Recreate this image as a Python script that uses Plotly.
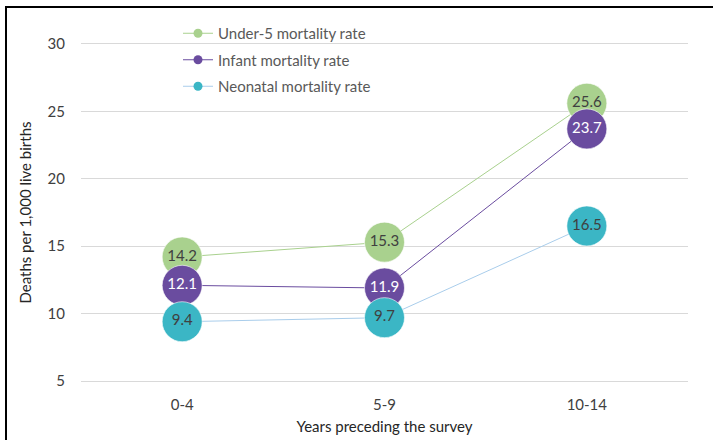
import plotly.graph_objects as go

categories = ["0-4", "5-9", "10-14"]
under5 = [14.2, 15.3, 25.6]
infant = [12.1, 11.9, 23.7]
neonatal = [9.4, 9.7, 16.5]
series_names = ["Under-5 mortality rate", "Infant mortality rate", "Neonatal mortality rate"]
y_ticks = [5, 10, 15, 20, 25, 30]

FONT = "Lato, 'Open Sans', sans-serif"
marker_colors = ["#A9D18E", "#6A4C9F", "#3BB6C5"]
line_colors = ["#A9D18E", "#6A4C9F", "#A9CDEB"]
label_colors = ["#404040", "#FFFFFF", "#404040"]

fig = go.Figure()
for i, vals in enumerate([under5, infant, neonatal]):
    fig.add_trace(go.Scatter(
        x=categories, y=vals, mode="lines+markers+text",
        line=dict(color=line_colors[i], width=1),
        marker=dict(size=40, color=marker_colors[i], line=dict(color="rgba(255,255,255,0.6)", width=1)),
        text=[f"{v:.1f}" for v in vals], textposition="middle center",
        textfont=dict(family=FONT, size=15, color=label_colors[i]),
        showlegend=False, cliponaxis=False, hoverinfo="skip",
    ))
for i, name in enumerate(series_names):
    fig.add_trace(go.Scatter(
        x=[None], y=[None], mode="lines+markers", name=name,
        line=dict(color=line_colors[i], width=1),
        marker=dict(size=9, color=marker_colors[i]),
        legendgroup=f"g{i}",
    ))

L, R, T, B = 81, 25, 41, 56
W, H = 713, 440
pw, ph = W - L - R, H - T - B

def px(x):
    return (x - L) / pw

def py(y):
    return (H - B - y) / ph

fig.update_layout(
    width=W, height=H,
    margin=dict(l=L, r=R, t=T, b=B, autoexpand=False),
    paper_bgcolor="white", plot_bgcolor="white",
    font=dict(family=FONT, size=15, color="#404040"),
    xaxis=dict(type="category", range=[-0.5, 2.5], showgrid=False, zeroline=False,
               showline=False, ticks="", tickfont=dict(size=15, color="#404040"),
               ticklabelstandoff=10, automargin=False,
               title=dict(text="Years preceding the survey", font=dict(size=15, color="#262626"), standoff=9)),
    yaxis=dict(range=[4.78, 30.22], tickvals=y_ticks, showgrid=True, gridcolor="#D9D9D9", gridwidth=1,
               zeroline=False, showline=False, ticks="", tickfont=dict(size=15, color="#404040"),
               ticklabelstandoff=15, automargin=False,
               title=dict(text="Deaths per 1,000 live births", font=dict(size=15, color="#262626"), standoff=12)),
    legend=dict(x=px(178), y=py(17), xanchor="left", yanchor="top",
                font=dict(family=FONT, size=15, color="#595959"), bgcolor="rgba(0,0,0,0)",
                tracegroupgap=4),
    shapes=[
        dict(type="line", xref="paper", yref="paper", x0=px(5), x1=px(713), y0=py(7), y1=py(7),
             line=dict(color="black", width=2)),
        dict(type="line", xref="paper", yref="paper", x0=px(6), x1=px(6), y0=py(6), y1=py(440),
             line=dict(color="black", width=2)),
    ],
)

fig.write_html("out.html", config={"displayModeBar": False},
               post_script="document.body.style.margin='0px';")
